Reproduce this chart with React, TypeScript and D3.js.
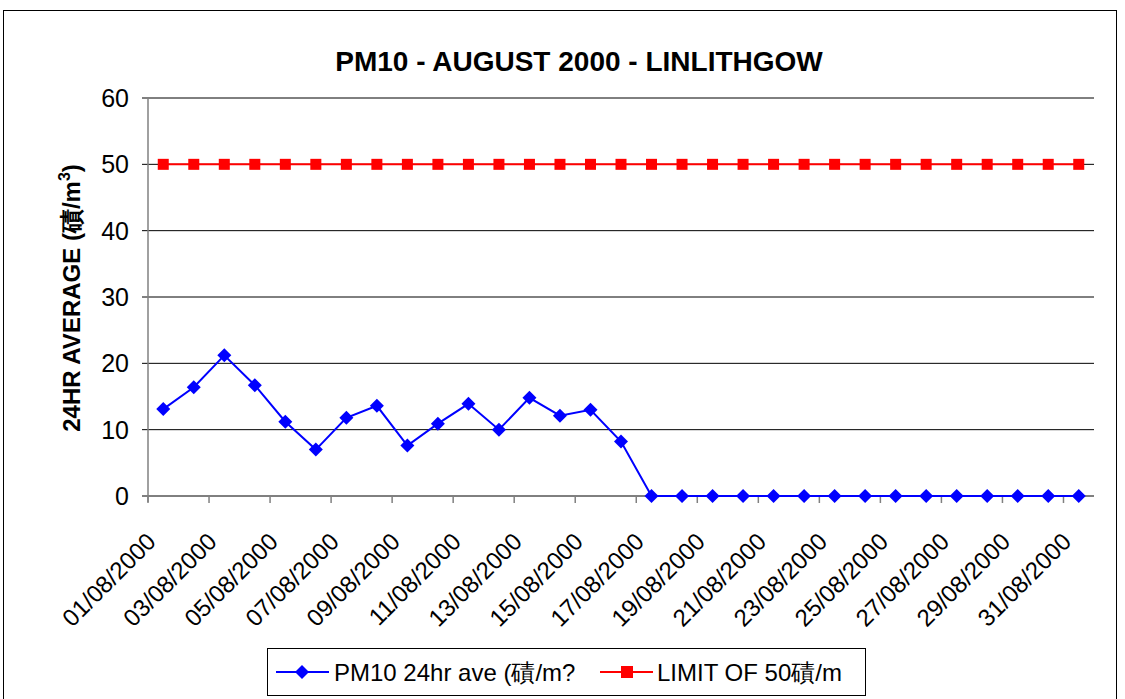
import React from "react";
import * as d3 from "d3";

const dates: string[] = Array.from({ length: 31 }, (_, i) => `${String(i + 1).padStart(2, "0")}/08/2000`);
const pm10Values: number[] = [13.1, 16.4, 21.2, 16.7, 11.2, 7.0, 11.8, 13.6, 7.6, 10.9, 13.9, 10.0, 14.8, 12.1, 13.0, 8.2, 0, 0, 0, 0, 0, 0, 0, 0, 0, 0, 0, 0, 0, 0, 0];
const limitValues: number[] = dates.map(() => 50);
const yTicks: number[] = [0, 10, 20, 30, 40, 50, 60];

const W = 1125, H = 699;
const plot = { left: 148, right: 1094, top: 98, bottom: 496 };
const FONT = "'Liberation Sans', Arial, sans-serif";

export default function App() {
  const x = d3.scaleBand<string>().domain(dates).range([plot.left, plot.right]);
  const y = d3.scaleLinear().domain([0, 60]).range([plot.bottom, plot.top]);
  const cx = (d: string) => (x(d) as number) + x.bandwidth() / 2;
  const line = d3.line<number>().x((_, i) => cx(dates[i])).y((v) => y(v));

  const tickIdx = d3.range(0, 32, 2);
  return (
    <svg width={W} height={H} style={{ position: "absolute", left: 0, top: 0, background: "#fff" }} fontFamily={FONT}>
      <rect x={3.5} y={10.5} width={1113} height={700} fill="#fff" stroke="#000" strokeWidth={1} />
      <text x={579} y={71} textAnchor="middle" fontSize={28} fontWeight="bold">PM10 - AUGUST 2000 - LINLITHGOW</text>
      {yTicks.map((t) => (
        <g key={t}>
          <line x1={plot.left - 6} x2={plot.right} y1={y(t)} y2={y(t)} stroke="#000" strokeWidth={1} />
          <text x={129} y={y(t)} dy="0.36em" textAnchor="end" fontSize={25}>{t}</text>
        </g>
      ))}
      <line x1={plot.left} x2={plot.left} y1={plot.top} y2={plot.bottom + 6} stroke="#808080" strokeWidth={1.5} />
      {tickIdx.map((i) => {
        const xx = plot.left + i * x.bandwidth();
        return <line key={i} x1={xx} x2={xx} y1={plot.bottom} y2={plot.bottom + 7} stroke="#808080" strokeWidth={1.5} />;
      })}
      {dates.filter((_, i) => i % 2 === 0).map((d) => (
        <text key={d} transform={`translate(${cx(d) - 6},${plot.bottom + 47}) rotate(-45)`} textAnchor="end" fontSize={24}>{d}</text>
      ))}
      <text transform={`translate(80,${298}) rotate(-90)`} textAnchor="middle" fontSize={24} fontWeight="bold">
        24HR AVERAGE (磧/m<tspan dy={-10} fontSize={16}>3</tspan><tspan dy={10}>)</tspan>
      </text>
      <path d={line(limitValues) || ""} fill="none" stroke="#ff0000" strokeWidth={2} />
      {limitValues.map((v, i) => (
        <rect key={i} x={cx(dates[i]) - 5.5} y={y(v) - 5.5} width={11} height={11} fill="#ff0000" />
      ))}
      <path d={line(pm10Values) || ""} fill="none" stroke="#0000ff" strokeWidth={2} />
      {pm10Values.map((v, i) => (
        <path key={i} d={`M${cx(dates[i])},${y(v) - 7}l7,7l-7,7l-7,-7z`} fill="#0000ff" />
      ))}
      <rect x={267.5} y={648.5} width={598} height={47} fill="#fff" stroke="#000" strokeWidth={1} />
      <line x1={276} x2={329} y1={672} y2={672} stroke="#0000ff" strokeWidth={2} />
      <path d={`M302,665l7,7l-7,7l-7,-7z`} fill="#0000ff" />
      <text x={334} y={672} dy="0.36em" fontSize={24}>PM10 24hr ave (磧/m?</text>
      <line x1={600} x2={653} y1={672} y2={672} stroke="#ff0000" strokeWidth={2} />
      <rect x={621} y={666} width={12} height={12} fill="#ff0000" />
      <text x={657} y={672} dy="0.36em" fontSize={24}>LIMIT OF 50磧/m</text>
    </svg>
  );
}
